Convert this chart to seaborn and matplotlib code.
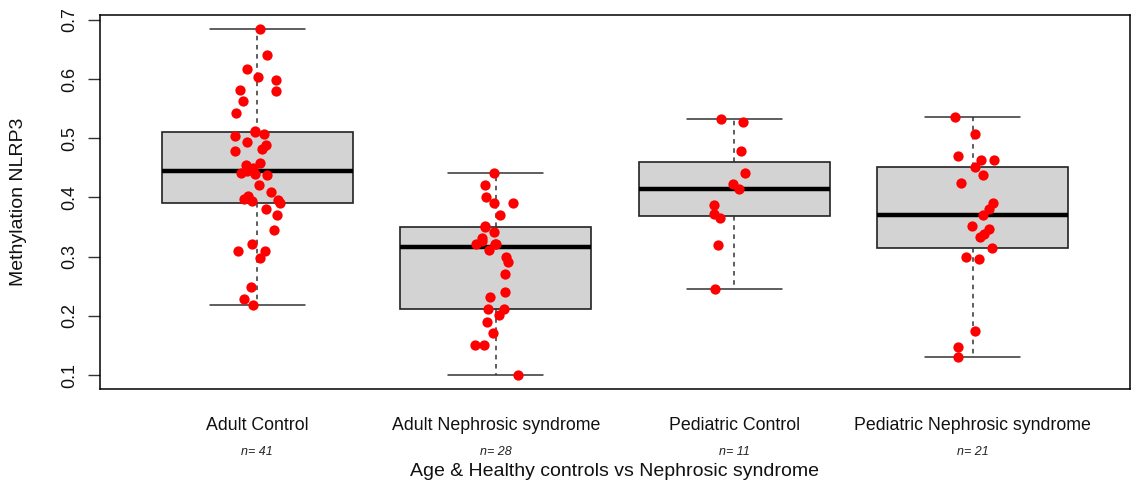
import numpy as np
import pandas as pd
import matplotlib
matplotlib.use("Agg")
import matplotlib.pyplot as plt
import seaborn as sns

categories = ["Adult Control", "Adult Nephrosic syndrome", "Pediatric Control",
              "Pediatric Nephrosic syndrome"]

adult_control = [0.685, 0.641, 0.617, 0.603, 0.599, 0.579, 0.582, 0.5635, 0.543,
                 0.512, 0.503, 0.510, 0.507, 0.494, 0.489, 0.482, 0.478, 0.458,
                 0.454, 0.449, 0.444, 0.4375, 0.439, 0.442, 0.421, 0.410, 0.4017,
                 0.398, 0.394, 0.395, 0.391, 0.380, 0.370, 0.345, 0.321, 0.310,
                 0.310, 0.298, 0.2495, 0.228, 0.219]
adult_nephrosic = [0.4405, 0.4208, 0.4005, 0.391, 0.391, 0.371, 0.3517, 0.3505,
                   0.3415, 0.332, 0.3264, 0.3208, 0.3208, 0.3208, 0.311, 0.300,
                   0.2905, 0.2708, 0.241, 0.232, 0.2124, 0.211, 0.202, 0.1905,
                   0.1713, 0.1517, 0.1517, 0.101]
pediatric_control = [0.5332, 0.527, 0.479, 0.4405, 0.4219, 0.4147, 0.388, 0.3725,
                     0.3658, 0.319, 0.245]
pediatric_nephrosic = [0.5354, 0.5079, 0.4697, 0.4624, 0.464, 0.4516, 0.4382,
                       0.4247, 0.3899, 0.3798, 0.3697, 0.3511, 0.3461, 0.3388,
                       0.3338, 0.314, 0.296, 0.2989, 0.1742, 0.1467, 0.1303]

series = [adult_control, adult_nephrosic, pediatric_control, pediatric_nephrosic]
df = pd.DataFrame({
    "group": np.repeat(categories, [len(s) for s in series]),
    "value": np.concatenate(series),
})
counts = [len(s) for s in series]

sns.set_style("white")
plt.rcParams["font.family"] = ["Liberation Sans", "DejaVu Sans"]
plt.rcParams["text.color"] = "#111111"
plt.rcParams["xtick.color"] = "#111111"
plt.rcParams["ytick.color"] = "#111111"

fig = plt.figure(figsize=(11.32, 4.83), dpi=100)
ax = fig.add_axes([100 / 1132, 1 - 389 / 483, 1030 / 1132, 374 / 483])

sns.boxplot(data=df, x="group", y="value", order=categories, ax=ax,
            width=0.8, color="#D3D3D3", linecolor="#222222", linewidth=1.2,
            fliersize=0, saturation=1,
            boxprops=dict(facecolor="#D3D3D3", edgecolor="#222222"),
            medianprops=dict(color="black", linewidth=3.2),
            whiskerprops=dict(color="#333333", linestyle=(0, (3, 3)), linewidth=1.1),
            capprops=dict(color="#333333", linewidth=1.1))

np.random.seed(3)
sns.stripplot(data=df, x="group", y="value", order=categories, ax=ax,
              color="red", size=7.4, jitter=0.1, linewidth=0, zorder=5)

ax.set_xlim(0.34 - 1, 4.66 - 1)
ax.set_ylim(0.0766, 0.708)
ax.set_yticks([0.1, 0.2, 0.3, 0.4, 0.5, 0.6, 0.7])
ax.set_yticklabels(["0.1", "0.2", "0.3", "0.4", "0.5", "0.6", "0.7"])
for lbl in ax.get_yticklabels():
    lbl.set_rotation(90)
    lbl.set_va("center")
ax.tick_params(axis="y", left=True, length=8.5, width=1, color="#333333",
               labelsize=13, pad=7, labelcolor="#111111")
ax.tick_params(axis="x", bottom=False, length=0, labelsize=12.8, pad=20,
               labelcolor="#111111")
ax.set_xlabel("")
ax.set_ylabel("")

for sp in ax.spines.values():
    sp.set_visible(True)
    sp.set_color("black")
    sp.set_linewidth(1.1)

for i, n in enumerate(counts):
    ax.annotate(f"n= {n}", xy=(i, 0), xycoords=("data", "axes fraction"),
                xytext=(0, -63), textcoords="offset pixels",
                ha="center", va="center", fontsize=9, style="italic",
                color="#222222")

fig.text(615 / 1132, 1 - 472 / 483, "Age & Healthy controls vs Nephrosic syndrome",
         ha="center", va="center", fontsize=14, color="#111111")
fig.text(19 / 1132, 1 - 202 / 483, "Methylation NLRP3", rotation=90,
         ha="center", va="center", fontsize=14, color="#111111")

fig.savefig("out.png", dpi=100)
